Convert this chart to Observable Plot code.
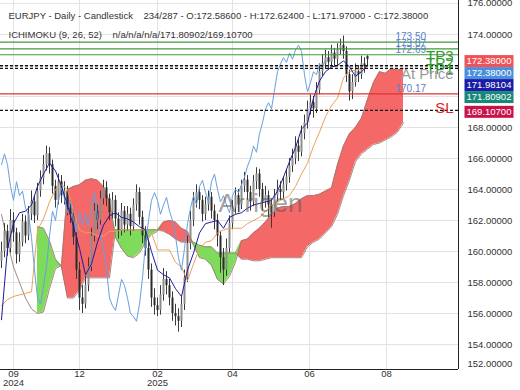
<!DOCTYPE html>
<html>
<head>
<meta charset="utf-8">
<script src="https://cdn.jsdelivr.net/npm/d3@7"></script>
<script src="https://cdn.jsdelivr.net/npm/@observablehq/plot@0.6"></script>
<style>
  html,body{margin:0;padding:0;background:#fff;}
  #chart svg{display:block;}
</style>
</head>
<body>
<div id="chart"></div>
<script>
// ---- Candles (one bar per index) ----
const opens = [159.4,160.0,161.3,160.2,162.0,161.2,159.8,160.6,161.9,161.0,
162.4,163.2,162.3,163.9,164.7,165.6,166.3,165.6,164.2,163.3,
164.5,163.6,163.9,162.8,162.4,160.9,158.8,157.0,156.6,157.8,
159.0,161.0,162.6,162.0,163.4,164.1,163.4,162.5,163.3,162.1,
161.3,162.6,161.7,162.4,161.6,163.0,163.8,162.2,161.0,160.2,
158.8,157.0,156.5,156.2,157.2,158.2,157.8,157.0,156.0,155.8,
155.5,156.6,158.3,160.5,162.0,163.3,163.8,163.3,162.4,163.0,
163.5,162.6,162.0,161.0,159.6,158.8,160.2,161.8,162.8,163.6,
163.0,164.2,164.6,163.8,163.2,164.5,165.0,164.0,163.2,163.6,
163.0,162.5,163.6,164.0,163.8,164.3,164.8,165.5,166.0,166.8,
166.4,167.6,168.3,169.2,169.6,169.2,170.4,171.6,172.1,172.5,
172.2,172.8,172.4,173.0,173.3,172.9,171.4,170.3,170.9,171.6,
171.4,172.1,172.586];
const highs = [160.6,161.8,161.7,162.7,162.5,161.5,161.2,162.4,162.3,162.9,
163.9,163.6,164.4,165.2,166.2,166.8,166.7,165.9,164.6,165.0,
164.9,164.5,164.2,163.2,162.7,161.2,159.3,157.8,158.4,159.6,
161.5,163.1,163.0,163.9,164.6,164.5,163.7,163.8,163.6,162.5,
163.1,162.9,162.9,162.8,163.4,164.3,164.1,162.6,161.6,160.7,
159.2,157.6,157.0,157.8,158.9,158.7,158.2,157.4,156.6,156.3,
157.1,158.8,161.0,162.6,163.8,164.3,164.1,163.6,163.5,163.9,
163.8,163.0,162.4,161.3,160.2,160.8,162.3,163.3,164.1,164.0,
164.6,165.1,164.9,164.2,164.9,165.4,165.3,164.4,164.2,163.9,
163.4,164.0,164.6,164.5,164.8,165.3,166.0,166.6,167.4,167.2,
168.1,168.8,169.7,170.1,170.0,170.9,172.1,172.7,173.0,172.9,
173.3,173.1,173.4,173.7,173.9,173.2,171.7,171.4,172.1,172.0,
172.6,172.5,172.624];
const lows = [158.9,159.6,159.7,159.9,160.6,159.2,159.3,160.3,160.5,160.7,
162.0,161.8,162.0,163.5,164.3,165.2,165.0,163.7,162.8,163.0,
163.1,163.0,162.3,161.8,160.4,158.2,156.2,156.0,156.3,157.4,
158.7,160.6,161.4,161.7,163.0,162.9,162.0,162.1,161.6,160.8,
161.0,161.2,161.3,161.0,161.3,162.6,161.7,160.5,159.7,158.2,
156.4,155.9,155.8,155.9,156.8,157.2,156.5,155.5,155.2,154.8,
155.1,156.2,158.0,160.1,161.6,162.8,162.7,161.9,162.0,162.6,
162.1,161.4,160.3,158.6,157.8,158.4,159.9,161.4,162.4,162.5,
162.7,163.8,163.3,162.6,162.9,164.0,163.5,162.6,162.8,162.2,
161.5,162.2,163.2,163.3,163.4,163.9,164.4,165.1,165.6,165.8,
166.1,167.2,167.9,168.8,168.6,168.9,170.1,171.3,171.8,171.7,
171.9,171.9,172.0,172.7,172.4,170.9,169.7,169.8,170.6,170.9,
171.1,171.5,171.97];
const closes = [160.0,161.3,160.2,162.0,161.2,159.8,160.6,161.9,161.0,162.4,
163.2,162.3,163.9,164.7,165.6,166.3,165.6,164.2,163.3,164.5,
163.6,163.9,162.8,162.4,160.9,158.8,157.0,156.6,157.8,159.0,
161.0,162.6,162.0,163.4,164.1,163.4,162.5,163.3,162.1,161.3,
162.6,161.7,162.4,161.6,163.0,163.8,162.2,161.0,160.2,158.8,
157.0,156.5,156.2,157.2,158.2,157.8,157.0,156.0,155.8,155.5,
156.6,158.3,160.5,162.0,163.3,163.8,163.3,162.4,163.0,163.5,
162.6,162.0,161.0,159.6,158.8,160.2,161.8,162.8,163.6,163.0,
164.2,164.6,163.8,163.2,164.5,165.0,164.0,163.2,163.6,163.0,
162.5,163.6,164.0,163.8,164.3,164.8,165.5,166.0,166.8,166.4,
167.6,168.3,169.2,169.6,169.2,170.4,171.6,172.1,172.5,172.2,
172.8,172.4,173.0,173.3,172.9,171.4,170.3,170.9,171.6,171.4,
172.1,171.9,172.38];

// ---- Ichimoku lines (one value every 2 bars) ----
const tenkan = [155.6,160.2,161.8,162.5,162.6,163.0,164.2,165.0,165.7,165.2,
164.2,163.0,161.6,160.2,158.5,159.2,160.6,161.7,162.3,162.5,
162.2,162.1,161.9,161.6,161.4,160.0,158.8,158.5,158.3,157.6,
157.1,158.8,159.9,161.2,161.8,161.9,162.0,161.5,162.2,162.4,
162.5,162.8,163.0,163.1,163.2,163.3,163.9,164.8,165.8,166.7,
167.9,168.3,169.9,171.0,171.6,171.9,172.0,172.3,171.9,171.3,
171.6,171.98104];
const kijun = [156.5,156.9,157.1,157.2,157.3,157.4,161.4,162.1,163.2,164.0,
164.3,164.0,162.6,161.4,161.2,161.2,161.0,161.0,161.3,161.3,
161.4,161.4,161.4,161.4,161.4,161.2,160.1,160.1,160.1,159.3,
159.0,158.1,159.2,160.2,160.6,160.7,161.2,161.4,161.5,161.5,
161.5,161.8,162.0,162.2,162.6,163.0,163.2,163.4,163.6,164.2,
165.0,165.7,166.8,167.7,168.7,169.4,169.9,171.2,171.6,171.7,
171.8,171.8];
const chikouShift = 14; // 26 sessions, in bar indices

// ---- Cloud (senkou spans, already displaced, one value every 2 bars) ----
const senkouA = [162.4,160.6,159.0,158.0,157.0,156.3,
156.0,156.1,157.6,158.9,
159.1,164.0,164.2,164.3,164.6,164.7,164.6,164.2,163.2,
160.9,160.2,159.7,159.6,159.9,160.6,161.1,161.3,
161.9,162.0,161.9,161.5,161.3,
160.4,159.6,159.5,159.1,158.2,157.9,158.4,159.3,
160.7,160.8,161.2,161.5,161.9,162.4,162.8,162.9,162.9,163.1,163.4,163.6,163.6,163.7,
163.9,164.1,165.6,166.8,167.6,168.0,168.6,169.8,170.9,171.6,171.5,171.8,171.7,171.80902];
const senkouB = [null,null,null,null,null,null,
161.6,161.5,160.7,159.5,
159.0,157.0,157.0,157.5,158.3,158.3,158.3,158.3,158.3,
161.4,161.4,161.4,161.4,161.4,161.4,161.4,161.4,
161.3,161.1,160.8,160.6,160.6,
160.6,160.4,160.3,160.3,159.9,159.9,159.9,159.9,
159.5,159.5,159.4,159.4,159.5,159.6,159.6,159.6,159.6,159.6,159.6,160.3,160.6,160.8,
161.2,161.6,162.4,163.6,164.6,165.8,166.3,166.6,166.9,167.0,167.2,167.4,167.7,168.3];

// ---- Axes ----
const yTicks = [154,156,158,160,162,164,166,168,170,172,174,176];
const yBottomLabel = "152.00000";
const monthTicks = [4, 26, 52, 77, 102.67, 128.33]; // bar index of month start
const monthLabels = ["09\n2024","12","02\n2025","04","06","08"];

// ---- Trade levels ----
const tpLevels = [173.50, 173.07, 172.69];
const tpNames = ["TP3","TP2","TP1"];
const entryLevels = [171.98104, 171.80902];
const refLevel = 170.17;
const slLevel = 169.107;

// ---- Right-side value badges ----
const badgeValues = [172.38, 172.38, 171.98104, 171.80902, 169.107];
const badgeColors = ["#ef5259","#4a8fdc","#1c1ca8","#17877a","#c8134a"];

const header1 = "EURJPY - Daily - Candlestick\u00a0\u00a0\u00a0 234/287 - O:172.58600 - H:172.62400 - L:171.97000 - C:172.38000";
const header2 = "ICHIMOKU (9, 26, 52)\u00a0\u00a0\u00a0 n/a/n/a/n/a/171.80902/169.10700";
const watermark = "Arrigen";

const FONT = '"Liberation Sans", Arial, Helvetica, sans-serif';
const X_DOMAIN = [-1/3, 457/3];
const Y_DOMAIN = [152.39, 176.19];
const Y_RANGE = [369, 0];

const candles = closes.map((c,i)=>({i, o:opens[i], h:highs[i], l:lows[i], c}));
const tenkanData = tenkan.map((v,k)=>({i:2*k, v}));
const kijunData = kijun.map((v,k)=>({i:2*k, v}));
const chikouData = closes.map((v,i)=>({i:i-chikouShift, v})).filter(d=>d.i>=0);
const cloud = senkouA.map((a,k)=>({i:2*k, a, b:senkouB[k]}));
const cloudBoth = cloud.filter(d=>d.b!==null);
const labelOf = new Map(monthTicks.map((t,k)=>[t, monthLabels[k]]));

// stack the value badges so they do not overlap; hide axis labels they cover
const yPix = d3.scaleLinear(Y_DOMAIN, Y_RANGE);
const badgeY = [];
badgeValues.forEach((v,k)=>{ badgeY.push(Math.max(yPix(v)+2, k ? badgeY[k-1]+12 : -Infinity)); });
const axisTicks = yTicks.filter(t => !badgeY.some(cy => Math.abs(yPix(t)-cy) < 10));

const plot = Plot.plot({
  width:520, height:390,
  marginLeft:0, marginRight:62, marginTop:0, marginBottom:21,
  style:{fontFamily:FONT, fontSize:"9.5px", color:"#333", background:"#fff", overflow:"visible"},
  x:{domain:X_DOMAIN, axis:null, label:null},
  y:{domain:Y_DOMAIN, range:Y_RANGE, axis:null, label:null},
  marks:[
    Plot.gridY(yTicks, {stroke:"#e3e3e3", strokeOpacity:1}),
    Plot.gridX(monthTicks, {stroke:"#e3e3e3", strokeOpacity:1}),
    // cloud: red where span A is above span B, green otherwise
    Plot.areaY(cloudBoth, {x:"i", y1:"b", y2:d=>Math.max(d.a,d.b), fill:"#f56868"}),
    Plot.areaY(cloudBoth, {x:"i", y1:"a", y2:d=>Math.max(d.a,d.b), fill:"#7fdb5c"}),
    Plot.line(cloud, {x:"i", y:"a", stroke:"#9c7a70", strokeWidth:1, strokeOpacity:0.9}),
    Plot.line(cloudBoth, {x:"i", y:"b", stroke:"#9c7a70", strokeWidth:1, strokeOpacity:0.9}),
    // candles
    Plot.ruleX(candles, {x:"i", y1:"l", y2:"h", stroke:"#3a3a3a", strokeWidth:1}),
    Plot.ruleX(candles, {x:"i", y1:"o", y2:"c", stroke:d=>d.c>=d.o?"#8d8d8d":"#2b2b2b", strokeWidth:2}),
    // ichimoku lines
    Plot.line(kijunData, {x:"i", y:"v", stroke:"#e9a25a", strokeWidth:1}),
    Plot.line(chikouData, {x:"i", y:"v", stroke:"#66a0e0", strokeWidth:1}),
    Plot.line(tenkanData, {x:"i", y:"v", stroke:"#1c1c9c", strokeWidth:1}),
    // trade levels
    Plot.ruleY(tpLevels, {stroke:"#3f9a3f", strokeWidth:1.2}),
    Plot.ruleY(entryLevels, {stroke:"#111", strokeWidth:1.3, strokeDasharray:"3,2"}),
    Plot.ruleY([refLevel], {stroke:"#e03232", strokeWidth:1.2}),
    Plot.ruleY([slLevel], {stroke:"#111", strokeWidth:1.3, strokeDasharray:"3,2"}),
    Plot.text(tpLevels, {y:d=>d, text:d=>d.toFixed(2), frameAnchor:"right", dx:-63, dy:-5, textAnchor:"start", fill:"#5a80c8", fontSize:10}),
    Plot.text([refLevel], {y:d=>d, text:d=>d.toFixed(2), frameAnchor:"right", dx:-63, dy:-5, textAnchor:"start", fill:"#5a80c8", fontSize:10}),
    Plot.text(tpLevels, {y:d=>d, text:(d,i)=>tpNames[i], frameAnchor:"right", dx:-5, dy:14, textAnchor:"end", fill:"#2f9a2f", fontSize:15}),
    Plot.text([entryLevels[1]], {y:d=>d, text:()=>"At Price", frameAnchor:"right", dx:-5, dy:6, textAnchor:"end", fill:"#9a9a9a", fontSize:15}),
    Plot.text([slLevel], {y:d=>d, text:()=>"SL", frameAnchor:"right", dx:-5, dy:-2, textAnchor:"end", fill:"#e02424", fontSize:15}),
    // watermark
    Plot.text([watermark], {frameAnchor:"top-left", dx:260, dy:193, textAnchor:"middle", fill:"#555", fillOpacity:0.55, fontSize:26}),
    // header
    Plot.text([header1], {frameAnchor:"top-left", dx:8, dy:12, textAnchor:"start", fill:"#333", fontSize:9.5}),
    Plot.text([header2], {frameAnchor:"top-left", dx:8, dy:31, textAnchor:"start", fill:"#333", fontSize:9.5}),
    // axes
    Plot.axisY(axisTicks, {anchor:"right", label:null, tickSize:0, tickPadding:9, tickFormat:d=>d.toFixed(5), fill:"#333", fontSize:9.5}),
    Plot.text([yBottomLabel], {frameAnchor:"bottom-right", dx:9, dy:-3, textAnchor:"start", fill:"#333", fontSize:9.5}),
    Plot.axisX(monthTicks, {anchor:"bottom", label:null, tickSize:0, tickPadding:1, tickFormat:d=>labelOf.get(d), fill:"#333", fontSize:9.5, lineHeight:0.95}),
    Plot.ruleX([X_DOMAIN[1]], {stroke:"#222", strokeWidth:1}),
    Plot.ruleY([Y_DOMAIN[0]], {stroke:"#222", strokeWidth:1})
  ]
});

// value badges on the right axis
const svg = d3.select(plot);
const g = svg.append("g").attr("font-family", FONT).attr("font-size", 9.5);
badgeValues.forEach((v, k) => {
  const cy = badgeY[k];
  g.append("rect").attr("x", 464.5).attr("y", cy - 6).attr("width", 49).attr("height", 12)
    .attr("fill", badgeColors[k]);
  g.append("text").attr("x", 489).attr("y", cy).attr("dy", "0.35em")
    .attr("text-anchor", "middle").attr("fill", "#fff").text(v.toFixed(5));
});

document.getElementById("chart").appendChild(plot);
</script>
</body>
</html>
